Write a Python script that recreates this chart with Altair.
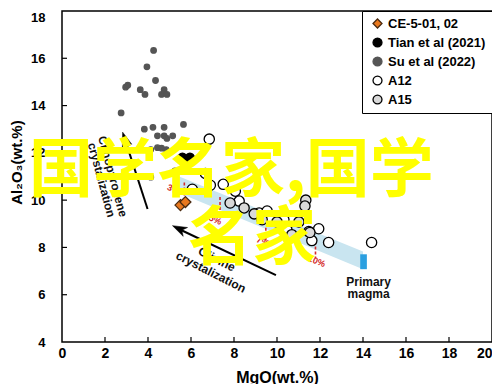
import altair as alt
import pandas as pd

# ---------------- data ----------------
x_ticks = [0, 2, 4, 6, 8, 10, 12, 14, 16, 18, 20]
y_ticks = [4, 6, 8, 10, 12, 14, 16, 18]

series_order = ["CE-5-01, 02", "Tian et al (2021)", "Su et al (2022)", "A12", "A15"]
series_fill = ["#e8781e", "#000000", "#555555", "#ffffff", "#d9d9d9"]
series_stroke = ["#4a2a10", "#000000", "#555555", "#000000", "#000000"]
series_shape = ["diamond", "circle", "circle", "circle", "circle"]
series_size = {"CE-5-01, 02": 120, "Tian et al (2021)": 80, "Su et al (2022)": 30,
               "A12": 105, "A15": 105}

ce_mgo = [5.51, 5.74]
ce_al = [9.79, 9.92]

tian_mgo = [5.60, 5.95, 5.78]
tian_al = [11.80, 11.80, 11.62]

su_mgo = [4.26, 3.95, 4.35, 2.96, 3.06, 3.64, 3.86, 4.63, 4.75, 4.88, 2.75, 3.83, 4.23,
          4.75, 5.65, 4.44, 4.75, 4.88, 5.15, 4.13, 4.44, 4.63, 4.85, 5.25, 4.13]
su_al = [16.33, 15.64, 15.06, 14.78, 14.86, 14.67, 14.47, 14.47, 14.67, 14.47, 13.69, 13.00, 13.08,
         13.08, 13.20, 12.72, 12.72, 12.61, 12.72, 12.14, 12.22, 12.20, 12.14, 11.24, 10.97]

a12_mgo = [6.85, 6.67, 6.06, 7.50, 6.90, 8.06, 8.24, 9.17, 9.54, 10.46, 11.94, 11.48, 11.62,
           12.40, 14.40, 9.72, 10.32]
a12_al = [12.58, 11.13, 10.46, 10.67, 10.63, 10.38, 9.96, 9.46, 9.54, 8.75, 8.79, 8.67, 8.29,
          8.21, 8.21, 9.21, 9.17]

a15_mgo = [7.82, 8.47, 8.94, 11.34, 11.30, 11.53, 10.69, 9.31, 11.02, 10.00]
a15_al = [9.88, 9.67, 9.42, 10.00, 9.75, 8.63, 8.54, 9.17, 9.08, 9.08]

# olivine fractionation band and primary magma
band_mgo = [5.45, 14.0]
band_upper = [11.00, 7.83]
band_lower = [10.30, 7.08]
primary_mgo = [13.87, 14.18]
primary_al = [7.08, 7.71]

# red dashed percentage marks
pct_mgo = [5.69, 7.35, 9.48, 11.79]
pct_top = [10.75, 10.13, 8.83, 8.25]
pct_bot = [10.20, 9.50, 8.25, 7.54]
pct_text = ["3%", "5%", "7%", "10%"]
pct_lab_mgo = [5.19, 7.13, 9.35, 11.85]
pct_lab_al = [10.46, 9.17, 8.25, 7.42]

# arrows (tail -> line end under head -> tip)
arrow_tail_mgo = [3.98, 9.95]
arrow_tail_al = [9.625, 6.83]
arrow_end_mgo = [2.94, 5.46]
arrow_end_al = [12.54, 8.77]
arrow_tip_mgo = [2.82, 5.14]
arrow_tip_al = [12.875, 8.92]
arrow_angle = [342, 296]

# annotation labels
ann_text = ["Clinopyroxene", "crystalization", "Olivine", "crystalization", "Primary", "magma"]
ann_mgo = [2.36, 1.84, 7.20, 6.93, 14.26, 14.26]
ann_al = [11.00, 10.85, 7.50, 6.96, 6.55, 6.04]
ann_angle = [75, 75, 27, 27, 0, 0]

watermark_lines = ["国学名家,国学", "名家"]

# ---------------- tables ----------------
rows = []
for name, xs_, ys_ in [("Su et al (2022)", su_mgo, su_al), ("A12", a12_mgo, a12_al),
                       ("A15", a15_mgo, a15_al), ("Tian et al (2021)", tian_mgo, tian_al),
                       ("CE-5-01, 02", ce_mgo, ce_al)]:
    for xv, yv in zip(xs_, ys_):
        rows.append({"series": name, "mgo": xv, "al": yv, "sz": series_size[name]})
pts_df = pd.DataFrame(rows)
pts_df["ord"] = range(len(pts_df))

band_df = pd.DataFrame({"mgo": band_mgo, "up": band_upper, "lo": band_lower})
prim_df = pd.DataFrame({"x1": [primary_mgo[0]], "x2": [primary_mgo[1]],
                        "y1": [primary_al[0]], "y2": [primary_al[1]]})
pct_df = pd.DataFrame({"mgo": pct_mgo, "top": pct_top, "bot": pct_bot})
pctlab_df = pd.DataFrame({"mgo": pct_lab_mgo, "al": pct_lab_al, "t": pct_text})
arr_df = pd.DataFrame({"x1": arrow_tail_mgo, "y1": arrow_tail_al, "x2": arrow_end_mgo,
                       "y2": arrow_end_al, "tx": arrow_tip_mgo, "ty": arrow_tip_al,
                       "ang": arrow_angle})
ann_df = pd.DataFrame({"mgo": ann_mgo, "al": ann_al, "t": ann_text, "ang": ann_angle})

FONT = "Liberation Sans"

x_axis = alt.Axis(
    values=x_ticks, title="MgO(wt.%)", labelFont=FONT, labelFontSize=14,
    labelFontWeight="bold", labelColor="black", labelPadding=4,
    labelAlign={"condition": {"test": "datum.value == 20", "value": "right"}, "value": "center"},
    titleFont=FONT, titleFontSize=16, titleFontWeight="bold", titleColor="black",
    titleY=35, titleBaseline="middle",
)
y_axis = alt.Axis(
    values=y_ticks, title="Al₂O₃(wt.%)", labelFont=FONT, labelFontSize=13,
    labelFontWeight="bold", labelColor="black", labelPadding=17,
    labelBaseline={"condition": {"test": "datum.value == 18", "value": "top"}, "value": "middle"},
    titleFont=FONT, titleFontSize=15, titleFontWeight="bold", titleColor="black",
    titleX=-46, titleY=151, titleBaseline="middle",
)
xs = alt.Scale(domain=[0, 20], nice=False, zero=False)
ys = alt.Scale(domain=[4, 18], nice=False, zero=False)


def X(f):
    return alt.X(f, type="quantitative", scale=xs, axis=x_axis)


def Y(f):
    return alt.Y(f, type="quantitative", scale=ys, axis=y_axis)


band = alt.Chart(band_df).mark_area(color="#c9e5f0", opacity=1).encode(
    x=X("mgo"), y=Y("up"), y2="lo:Q")

prim = alt.Chart(prim_df).mark_rect(color="#2a9fe0").encode(
    x=X("x1"), x2="x2:Q", y=Y("y1"), y2="y2:Q")

dashes = alt.Chart(pct_df).mark_rule(color="#d42a2a", strokeDash=[3, 2], strokeWidth=1.6).encode(
    x=X("mgo"), y=Y("top"), y2="bot:Q")

pctlab = alt.Chart(pctlab_df).mark_text(color="#d42a2a", font=FONT, fontSize=9, fontWeight="bold",
                                        angle=22).encode(
    x=X("mgo"), y=Y("al"), text="t:N")

ticks_x = alt.Chart(pd.DataFrame({"v": x_ticks[1:-1]})).mark_rule(color="black", strokeWidth=1.2).encode(
    x=X("v"), y=alt.value(331), y2=alt.value(326))
ticks_y = alt.Chart(pd.DataFrame({"v": y_ticks[1:-1]})).mark_rule(color="black", strokeWidth=1.2).encode(
    y=Y("v"), x=alt.value(0), x2=alt.value(5))

legend = alt.Legend(
    title=None, orient="top-right", offset=0, padding=6, fillColor="white",
    strokeColor="black", labelFont=FONT, labelFontSize=13, labelFontWeight="bold",
    labelColor="black", rowPadding=4, symbolOffset=3, labelOffset=4,
    symbolStrokeWidth=1.3, symbolOpacity=1, symbolSize=80,
)

points = alt.Chart(pts_df).mark_point(filled=True, opacity=1, strokeWidth=1.3).encode(
    x=X("mgo"), y=Y("al"),
    fill=alt.Fill("series:N", scale=alt.Scale(domain=series_order, range=series_fill), legend=legend),
    stroke=alt.Stroke("series:N", scale=alt.Scale(domain=series_order, range=series_stroke), legend=legend),
    shape=alt.Shape("series:N", scale=alt.Scale(domain=series_order, range=series_shape), legend=legend),
    size=alt.Size("sz:Q", scale=None, legend=None),
    order=alt.Order("ord:Q"),
)

arrows = alt.Chart(arr_df).mark_rule(color="black", strokeWidth=2).encode(
    x=X("x1"), y=Y("y1"), x2="x2:Q", y2="y2:Q")
heads = alt.Chart(arr_df).mark_point(
    shape="M0,0L0.55,1.6L0,1.15L-0.55,1.6Z", filled=True, fill="black", stroke="black",
    strokeWidth=0.5, opacity=1, size=320).encode(
    x=X("tx"), y=Y("ty"), angle=alt.Angle("ang:Q", scale=None))

ann = alt.Chart(ann_df).mark_text(font=FONT, fontSize=12, fontWeight="bold", color="#111111").encode(
    x=X("mgo"), y=Y("al"), text="t:N", angle=alt.Angle("ang:Q", scale=None))

wm1 = alt.Chart(pd.DataFrame({"t": [watermark_lines[0]]})).mark_text(
    font="Noto Sans CJK SC", fontSize=64, fontWeight="bold", color="#ffff00",
    align="left", baseline="middle").encode(text="t:N", x=alt.value(-33), y=alt.value(161))
wm2 = alt.Chart(pd.DataFrame({"t": [watermark_lines[1]]})).mark_text(
    font="Noto Sans CJK SC", fontSize=64, fontWeight="bold", color="#ffff00",
    align="left", baseline="middle").encode(text="t:N", x=alt.value(126), y=alt.value(229))

chart = alt.layer(
    band, prim, dashes, pctlab, ticks_x, ticks_y, arrows, heads, ann, points, wm1, wm2
).properties(
    width=430, height=331, autosize="none",
    padding={"left": 54, "top": 3, "right": 0, "bottom": 42},
    background="white",
).configure_view(
    stroke="black", strokeWidth=1.5
).configure_axis(
    domain=False, ticks=False, tickSize=0, grid=False
)

chart.save("out.html", embed_options={"renderer": "svg", "actions": False})
